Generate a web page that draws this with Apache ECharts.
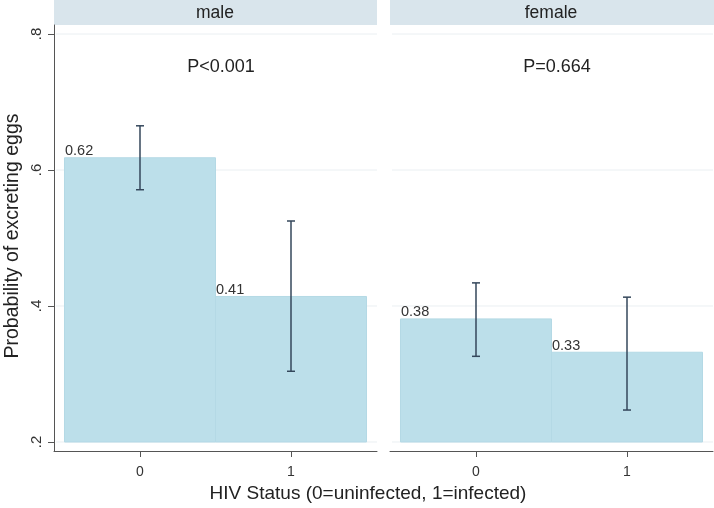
<!DOCTYPE html>
<html>
<head>
<meta charset="utf-8">
<script src="https://cdn.jsdelivr.net/npm/echarts@6/dist/echarts.min.js"></script>
<style>
  html, body { margin: 0; padding: 0; background: #fff; }
  #main { width: 714px; height: 508px; }
</style>
</head>
<body>
<div id="main"></div>
<script>
// 数据
var panels = ["male", "female"];
var hivStatus = [0, 1];
var maleMean = [0.618, 0.414];
var maleLower = [0.571, 0.304];
var maleUpper = [0.665, 0.525];
var femaleMean = [0.381, 0.332];
var femaleLower = [0.326, 0.247];
var femaleUpper = [0.434, 0.413];
var pLabels = ["P<0.001", "P=0.664"];
var yTicks = [0.2, 0.4, 0.6, 0.8];
var xTicks = [0, 1];
var yBase = 0.2;

(function () {
    var myChart = echarts.init(document.getElementById("main"));
    var font = "Liberation Sans, Arial, Helvetica, sans-serif";
    var barColor = "#bcdfea";
    var axisColor = "#555";
    var errColor = "#34475b";

    function barData(means) {
        return hivStatus.map(function (x, i) { return [x, means[i]]; });
    }
    function errData(lo, hi) {
        return hivStatus.map(function (x, i) { return [x, lo[i], hi[i]]; });
    }

    // 柱子 + 数值标签
    function renderBar(params, api) {
        var x = api.value(0), v = api.value(1);
        var p1 = api.coord([x - 0.5, v]);
        var p2 = api.coord([x + 0.5, yBase]);
        return {
            type: "group",
            children: [
                {
                    type: "rect",
                    shape: { x: p1[0], y: p1[1], width: p2[0] - p1[0], height: p2[1] - p1[1] },
                    style: { fill: barColor, stroke: "#b4d9e5", lineWidth: 1 }
                },
                {
                    type: "text",
                    x: p1[0] + 0.5,
                    y: p1[1] + 1,
                    style: {
                        text: v.toFixed(2),
                        font: "14.5px " + font,
                        fill: "#333",
                        align: "left",
                        verticalAlign: "bottom"
                    }
                }
            ]
        };
    }

    // 误差线
    function renderErr(params, api) {
        var x = api.value(0);
        var lo = api.coord([x, api.value(1)]);
        var hi = api.coord([x, api.value(2)]);
        var cap = 4;
        var st = { stroke: errColor, lineWidth: 1.5 };
        return {
            type: "group",
            children: [
                { type: "line", shape: { x1: lo[0], y1: lo[1], x2: hi[0], y2: hi[1] }, style: st },
                { type: "line", shape: { x1: lo[0] - cap, y1: lo[1], x2: lo[0] + cap, y2: lo[1] }, style: st },
                { type: "line", shape: { x1: hi[0] - cap, y1: hi[1], x2: hi[0] + cap, y2: hi[1] }, style: st }
            ]
        };
    }

    function xAxis(idx) {
        return {
            type: "value",
            gridIndex: idx,
            min: -0.5695,
            max: 1.5695,
            axisLine: { show: true, onZero: false, lineStyle: { color: axisColor, width: 1 } },
            axisTick: { show: true, length: 6, customValues: xTicks, lineStyle: { color: axisColor } },
            axisLabel: {
                customValues: xTicks,
                color: "#333",
                fontSize: 14,
                fontFamily: font,
                margin: 14
            },
            splitLine: { show: false }
        };
    }

    function yAxis(idx, showAxis) {
        return {
            type: "value",
            gridIndex: idx,
            min: 0.18676,
            max: 0.81324,
            axisLine: { show: showAxis, onZero: false, lineStyle: { color: axisColor, width: 1 } },
            axisTick: { show: showAxis, length: 6, customValues: yTicks, lineStyle: { color: axisColor } },
            axisLabel: {
                show: showAxis,
                customValues: yTicks,
                rotate: 90,
                color: "#333",
                fontSize: 15,
                fontFamily: font,
                margin: 10,
                formatter: function (v) { return String(v).replace(/^0/, ""); }
            },
            splitLine: { show: false }
        };
    }

    // 网格线
    function gridLines(idx) {
        return {
            type: "custom",
            xAxisIndex: idx,
            yAxisIndex: idx,
            silent: true,
            z: 0,
            data: yTicks.map(function (t) { return [0, t]; }),
            renderItem: function (params, api) {
                var y = api.coord([0, api.value(1)])[1];
                var cs = params.coordSys;
                return {
                    type: "line",
                    shape: { x1: cs.x + 2, y1: y, x2: cs.x + cs.width, y2: y },
                    style: { stroke: "#eaeff2", lineWidth: 1 }
                };
            }
        };
    }

    var option = {
        animation: false,
        backgroundColor: "#fff",
        grid: [
            { left: 54, right: 337, top: 25, bottom: 57 },
            { left: 390, right: 1, top: 25, bottom: 57 }
        ],
        xAxis: [xAxis(0), xAxis(1)],
        yAxis: [yAxis(0, true), yAxis(1, false)],
        graphic: [
            { type: "rect", left: 54, top: 0, shape: { width: 323, height: 25 }, style: { fill: "#d9e5ec" } },
            { type: "rect", left: 390, top: 0, shape: { width: 324, height: 25 }, style: { fill: "#d9e5ec" } },
            { type: "text", x: 215, y: 13, style: { text: panels[0], font: "17.5px " + font, fill: "#222", align: "center", verticalAlign: "middle" } },
            { type: "text", x: 551, y: 13, style: { text: panels[1], font: "17.5px " + font, fill: "#222", align: "center", verticalAlign: "middle" } },
            { type: "text", x: 221, y: 67, style: { text: pLabels[0], font: "18px " + font, fill: "#222", align: "center", verticalAlign: "middle" } },
            { type: "text", x: 557, y: 67, style: { text: pLabels[1], font: "18px " + font, fill: "#222", align: "center", verticalAlign: "middle" } },
            { type: "text", x: 368, y: 494, style: { text: "HIV Status (0=uninfected, 1=infected)", font: "19px " + font, fill: "#222", align: "center", verticalAlign: "middle" } },
            { type: "text", x: 13, y: 236, rotation: Math.PI / 2, style: { text: "Probability of excreting eggs", font: "19.5px " + font, fill: "#222", align: "center", verticalAlign: "middle" } }
        ],
        series: [
            gridLines(0),
            gridLines(1),
            { type: "custom", name: "male", xAxisIndex: 0, yAxisIndex: 0, z: 2, data: barData(maleMean), renderItem: renderBar },
            { type: "custom", name: "female", xAxisIndex: 1, yAxisIndex: 1, z: 2, data: barData(femaleMean), renderItem: renderBar },
            { type: "custom", name: "male CI", xAxisIndex: 0, yAxisIndex: 0, z: 3, data: errData(maleLower, maleUpper), renderItem: renderErr },
            { type: "custom", name: "female CI", xAxisIndex: 1, yAxisIndex: 1, z: 3, data: errData(femaleLower, femaleUpper), renderItem: renderErr }
        ]
    };

    myChart.setOption(option);
    window.addEventListener("resize", function () {
        myChart.resize();
    });
})();
</script>
</body>
</html>
